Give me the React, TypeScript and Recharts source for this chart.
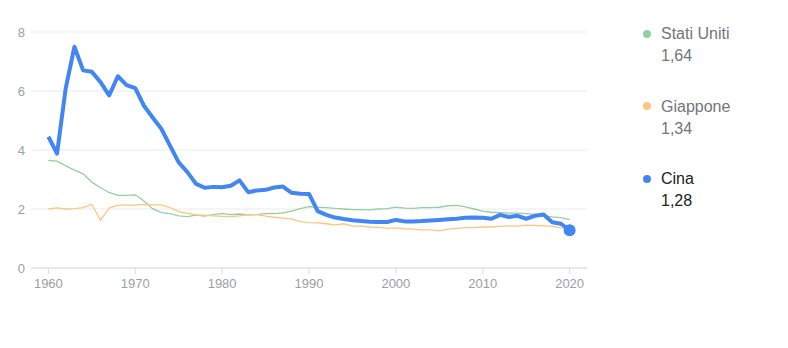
import { CartesianGrid, Line, LineChart, XAxis, YAxis } from "recharts";

const years = [
  1960, 1961, 1962, 1963, 1964, 1965, 1966, 1967, 1968, 1969,
  1970, 1971, 1972, 1973, 1974, 1975, 1976, 1977, 1978, 1979,
  1980, 1981, 1982, 1983, 1984, 1985, 1986, 1987, 1988, 1989,
  1990, 1991, 1992, 1993, 1994, 1995, 1996, 1997, 1998, 1999,
  2000, 2001, 2002, 2003, 2004, 2005, 2006, 2007, 2008, 2009,
  2010, 2011, 2012, 2013, 2014, 2015, 2016, 2017, 2018, 2019,
  2020,
];

const usa = [
  3.65, 3.62, 3.46, 3.32, 3.19, 2.91, 2.72, 2.56, 2.46, 2.46,
  2.48, 2.27, 2.01, 1.88, 1.84, 1.77, 1.74, 1.79, 1.76, 1.81,
  1.84, 1.81, 1.83, 1.8, 1.81, 1.84, 1.84, 1.87, 1.93, 2.01,
  2.08, 2.06, 2.05, 2.02, 2.0, 1.98, 1.98, 1.97, 2.0, 2.01,
  2.06, 2.03, 2.02, 2.05, 2.05, 2.06, 2.11, 2.12, 2.07, 2.0,
  1.93, 1.89, 1.88, 1.86, 1.86, 1.84, 1.82, 1.77, 1.73, 1.71,
  1.64,
];

const japan = [
  2.0, 2.04, 2.0, 2.01, 2.05, 2.16, 1.62, 2.03, 2.13, 2.13,
  2.13, 2.16, 2.14, 2.14, 2.05, 1.91, 1.85, 1.8, 1.79, 1.77,
  1.75, 1.74, 1.77, 1.8, 1.81, 1.76, 1.72, 1.69, 1.66, 1.57,
  1.54, 1.53, 1.5, 1.46, 1.5, 1.42, 1.43, 1.39, 1.38, 1.34,
  1.36, 1.33, 1.32, 1.29, 1.29, 1.26, 1.32, 1.34, 1.37, 1.37,
  1.39, 1.39, 1.41, 1.43, 1.42, 1.45, 1.44, 1.43, 1.42, 1.36,
  1.34,
];

const china = [
  4.45, 3.88, 6.1, 7.5, 6.7, 6.65, 6.3, 5.85, 6.5, 6.2,
  6.1, 5.5, 5.1, 4.72, 4.15, 3.58, 3.25, 2.85, 2.72, 2.75,
  2.74, 2.79, 2.97, 2.57, 2.63, 2.65, 2.73, 2.76, 2.55, 2.52,
  2.51, 1.93, 1.8, 1.71, 1.66, 1.62, 1.59, 1.57, 1.56, 1.56,
  1.63, 1.58, 1.58, 1.59, 1.61, 1.63, 1.65, 1.67, 1.7, 1.71,
  1.7, 1.67, 1.8, 1.73, 1.77, 1.67, 1.77, 1.81, 1.55, 1.5,
  1.28,
];

const xTicks = [1960, 1970, 1980, 1990, 2000, 2010, 2020];
const yTicks = [0, 2, 4, 6, 8];

const legend = [
  { name: "Stati Uniti", value: "1,64", color: "#93d09f", text: "#757575" },
  { name: "Giappone", value: "1,34", color: "#fbc77f", text: "#757575" },
  { name: "Cina", value: "1,28", color: "#4285f4", text: "#202124" },
];

const data = years.map((year, i) => ({
  year,
  usa: usa[i],
  japan: japan[i],
  china: china[i],
}));

const font = "Arial, 'Liberation Sans', sans-serif";

const EndDot = (props: any) => {
  const { cx, cy, index } = props;
  if (index !== data.length - 1) return <g key={index} />;
  return <circle key={index} cx={cx} cy={cy} r={6} fill="#4285f4" />;
};

export default function App() {
  return (
    <div style={{ position: "relative", width: 780, height: 330, fontFamily: font }}>
      <LineChart
        width={600}
        height={300}
        data={data}
        margin={{ top: 24, right: 21, bottom: 0, left: 0 }}
      >
        <CartesianGrid vertical={false} stroke="#ebebeb" />
        <XAxis
          dataKey="year"
          type="number"
          domain={[1958, 2022]}
          ticks={xTicks}
          height={40}
          stroke="#dadce0"
          tickSize={6}
          tickMargin={5}
          tick={{ fill: "#9aa0a6", fontSize: 13, fontFamily: font }}
        />
        <YAxis
          domain={[0, 8]}
          ticks={yTicks}
          width={23}
          axisLine={false}
          tickLine={false}
          tickSize={0}
          tickMargin={6}
          tick={{ fill: "#9aa0a6", fontSize: 13, fontFamily: font }}
        />
        <Line
          dataKey="usa"
          stroke="#93d09f"
          strokeWidth={1.3}
          dot={false}
          isAnimationActive={false}
        />
        <Line
          dataKey="japan"
          stroke="#fbc77f"
          strokeWidth={1.3}
          dot={false}
          isAnimationActive={false}
        />
        <Line
          dataKey="china"
          stroke="#4285f4"
          strokeWidth={4}
          strokeLinejoin="round"
          dot={EndDot}
          activeDot={false}
          isAnimationActive={false}
        />
      </LineChart>
      {legend.map((item, i) => (
        <div
          key={item.name}
          style={{
            position: "absolute",
            left: 653,
            top: 15 + i * 72.5,
            fontSize: 16,
            lineHeight: "22px",
            color: item.text,
          }}
        >
          <span
            style={{
              position: "absolute",
              left: -18,
              top: 6.5,
              width: 8,
              height: 8,
              borderRadius: 4,
              background: item.color,
            }}
          />
          <div>{item.name}</div>
          <div>{item.value}</div>
        </div>
      ))}
    </div>
  );
}
